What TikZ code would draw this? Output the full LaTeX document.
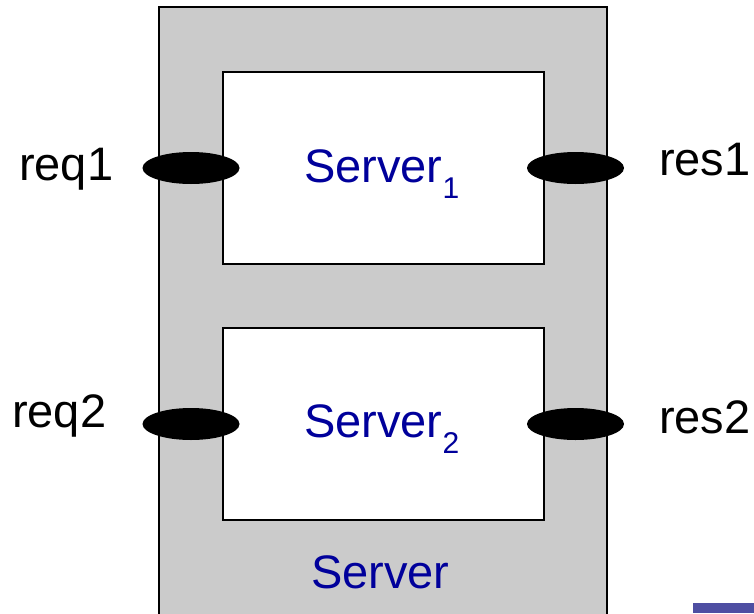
\documentclass[tikz,border=0pt]{standalone}
\usepackage{fontspec}
\setmainfont{Liberation Sans}
\usetikzlibrary{shapes.geometric}
\definecolor{srvgray}{RGB}{203,203,203}
\definecolor{srvblue}{RGB}{0,0,155}
\definecolor{logoblue}{RGB}{78,78,162}
\tikzset{
  outerbox/.style={draw=black, line width=2pt, fill=srvgray},
  innerbox/.style={draw=black, line width=2pt, fill=white},
  port/.style={ellipse, fill=black, draw=none, minimum width=97pt, minimum height=32pt, inner sep=0pt},
  lbl/.style={font=\fontsize{47}{56}\selectfont, text=black, inner sep=0pt, anchor=base west},
  blbl/.style={font=\fontsize{47}{56}\selectfont, text=srvblue, inner sep=0pt, anchor=base west}
}
\newcommand{\subidx}[1]{\raisebox{-16pt}{\fontsize{30}{32}\selectfont #1}}
\begin{document}
\begin{tikzpicture}[x=1pt,y=-1pt]
\useasboundingbox (0,0) rectangle (754,613);
% outer server
\path[outerbox] (159,7) rectangle (607,620);
\node[draw=none, inner sep=0pt, minimum size=0pt] (outer) at (383,310) {};
% inner boxes
\path[innerbox] (223,72) rectangle (544,264);
\path[innerbox] (223,328) rectangle (544,520);
\node[inner sep=0pt] (box1) at (383.5,168) {};
\node[inner sep=0pt] (box2) at (383.5,424) {};
% ports
\node[port] (p1l) at (191,168) {};
\node[port] (p1r) at (575.5,168) {};
\node[port] (p2l) at (191,424) {};
\node[port] (p2r) at (575.5,424) {};
% labels
\node[lbl] (req1) at (19,180) {req1};
\node[lbl] (req2) at (12,427) {req2};
\node[lbl] (res1) at (659,175) {res1};
\node[lbl] (res2) at (659,433) {res2};
\node[blbl] (s1) at (304,182) {Server\subidx{1}};
\node[blbl] (s2) at (304,437) {Server\subidx{2}};
\node[blbl] (s) at (311,588) {Server};
% corner logo fragment
\fill[logoblue] (693,603) rectangle (754,613);
\end{tikzpicture}
\end{document}
